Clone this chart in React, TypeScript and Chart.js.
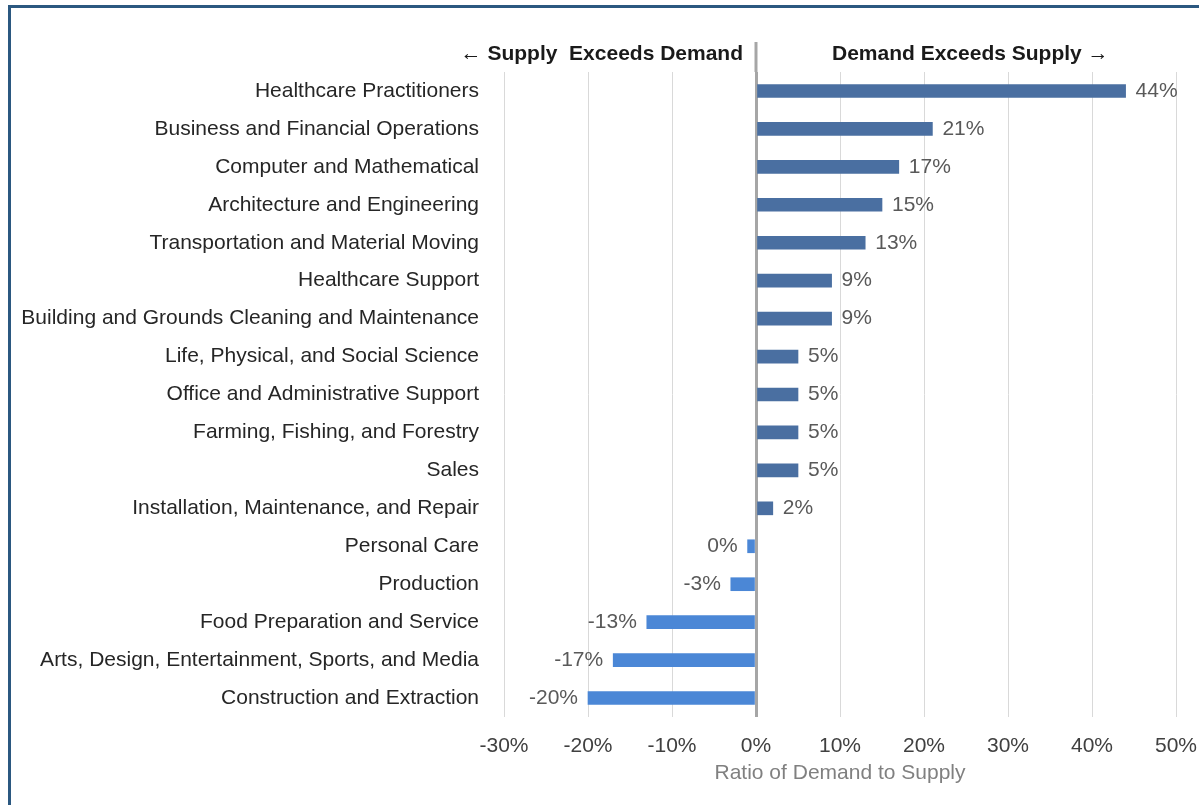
import React, { useEffect, useRef } from "react";
import { Chart, registerables } from "chart.js";

Chart.register(...registerables);

const categories = [
  "Healthcare Practitioners",
  "Business and Financial Operations",
  "Computer and Mathematical",
  "Architecture and Engineering",
  "Transportation and Material Moving",
  "Healthcare Support",
  "Building and Grounds Cleaning and Maintenance",
  "Life, Physical, and Social Science",
  "Office and Administrative Support",
  "Farming, Fishing, and Forestry",
  "Sales",
  "Installation, Maintenance, and Repair",
  "Personal Care",
  "Production",
  "Food Preparation and Service",
  "Arts, Design, Entertainment, Sports, and Media",
  "Construction and Extraction",
];

const values = [44, 21, 17, 15, 13, 9, 9, 5, 5, 5, 5, 2, -1, -3, -13, -17, -20];
const valueLabels = ["44%", "21%", "17%", "15%", "13%", "9%", "9%", "5%", "5%", "5%", "5%", "2%", "0%", "-3%", "-13%", "-17%", "-20%"];

const xMin = -30;
const xMax = 50;
const xStep = 10;
const leftHeader = "\u2190 Supply  Exceeds Demand";
const rightHeader = "Demand Exceeds Supply \u2192";
const axisTitle = "Ratio of Demand to Supply";

const FONT = "'Liberation Sans', Arial, sans-serif";
const POS_COLOR = "#4a6fa1";
const NEG_COLOR = "#4b87d6";

const decorPlugin = {
  id: "decor",
  afterDraw(chart: any) {
    const { ctx, chartArea } = chart;
    const xs = chart.scales.x;
    ctx.save();
    // frame
    ctx.strokeStyle = "#2b5880";
    ctx.lineWidth = 3;
    ctx.beginPath();
    ctx.moveTo(9.5, 805);
    ctx.lineTo(9.5, 6.5);
    ctx.lineTo(1199, 6.5);
    ctx.stroke();
    // zero line extension
    const x0 = xs.getPixelForValue(0);
    ctx.strokeStyle = "#a6a6a6";
    ctx.lineWidth = 3;
    ctx.beginPath();
    ctx.moveTo(x0, 42);
    ctx.lineTo(x0, chartArea.top);
    ctx.stroke();
    // headers
    ctx.fillStyle = "#1a1a1a";
    ctx.font = `bold 21px ${FONT}`;
    ctx.textBaseline = "middle";
    ctx.textAlign = "right";
    ctx.fillText(leftHeader, x0 - 13, 54);
    ctx.textAlign = "left";
    ctx.fillText(rightHeader, x0 + 76, 54);
    ctx.restore();
  },
  afterDatasetsDraw(chart: any) {
    const { ctx } = chart;
    const meta = chart.getDatasetMeta(0);
    ctx.save();
    ctx.font = `21px ${FONT}`;
    ctx.fillStyle = "#595959";
    ctx.textBaseline = "middle";
    meta.data.forEach((el: any, i: number) => {
      const v = values[i];
      if (v >= 0) {
        ctx.textAlign = "left";
        ctx.fillText(valueLabels[i], el.x + 10, el.y);
      } else {
        ctx.textAlign = "right";
        ctx.fillText(valueLabels[i], el.x - 10, el.y);
      }
    });
    ctx.restore();
  },
};

export default function App() {
  const ref = useRef<HTMLCanvasElement | null>(null);
  useEffect(() => {
    if (!ref.current) return;
    const chart = new Chart(ref.current, {
      type: "bar",
      data: {
        labels: categories,
        datasets: [
          {
            data: values,
            backgroundColor: values.map((v) => (v >= 0 ? POS_COLOR : NEG_COLOR)),
            barThickness: 13,
          },
        ],
      },
      options: {
        indexAxis: "y",
        animation: false,
        responsive: false,
        layout: { padding: { top: 72, right: 23, left: 0, bottom: 0 } },
        plugins: { legend: { display: false }, tooltip: { enabled: false } },
        scales: {
          x: {
            min: xMin,
            max: xMax,
            afterFit: (s: any) => {
              s.height = 88;
              s.paddingRight = 0;
              s.paddingLeft = 0;
            },
            ticks: {
              stepSize: xStep,
              padding: 17,
              color: "#404040",
              font: { family: FONT, size: 21 },
              callback: (v: any) => `${v}%`,
            },
            grid: {
              drawTicks: false,
              color: (c: any) => (c.tick && c.tick.value === 0 ? "#a6a6a6" : "#d9d9d9"),
              lineWidth: (c: any) => (c.tick && c.tick.value === 0 ? 3 : 1),
            },
            border: { display: false },
            title: {
              display: true,
              text: axisTitle,
              color: "#808080",
              font: { family: FONT, size: 21 },
              padding: { top: 0, bottom: 19 },
            },
          },
          y: {
            afterFit: (s: any) => {
              s.width = 504;
              s.paddingTop = 0;
              s.paddingBottom = 0;
            },
            ticks: {
              padding: 25,
              color: "#262626",
              font: { family: FONT, size: 21 },
              autoSkip: false,
            },
            grid: { display: false, drawTicks: false },
            border: { display: false },
          },
        },
      },
      plugins: [decorPlugin],
    });
    return () => chart.destroy();
  }, []);
  return (
    <div style={{ position: "absolute", left: 0, top: 0, width: 1199, height: 805, background: "#fff" }}>
      <canvas ref={ref} width={1199} height={805} style={{ width: 1199, height: 805, display: "block" }} />
    </div>
  );
}
